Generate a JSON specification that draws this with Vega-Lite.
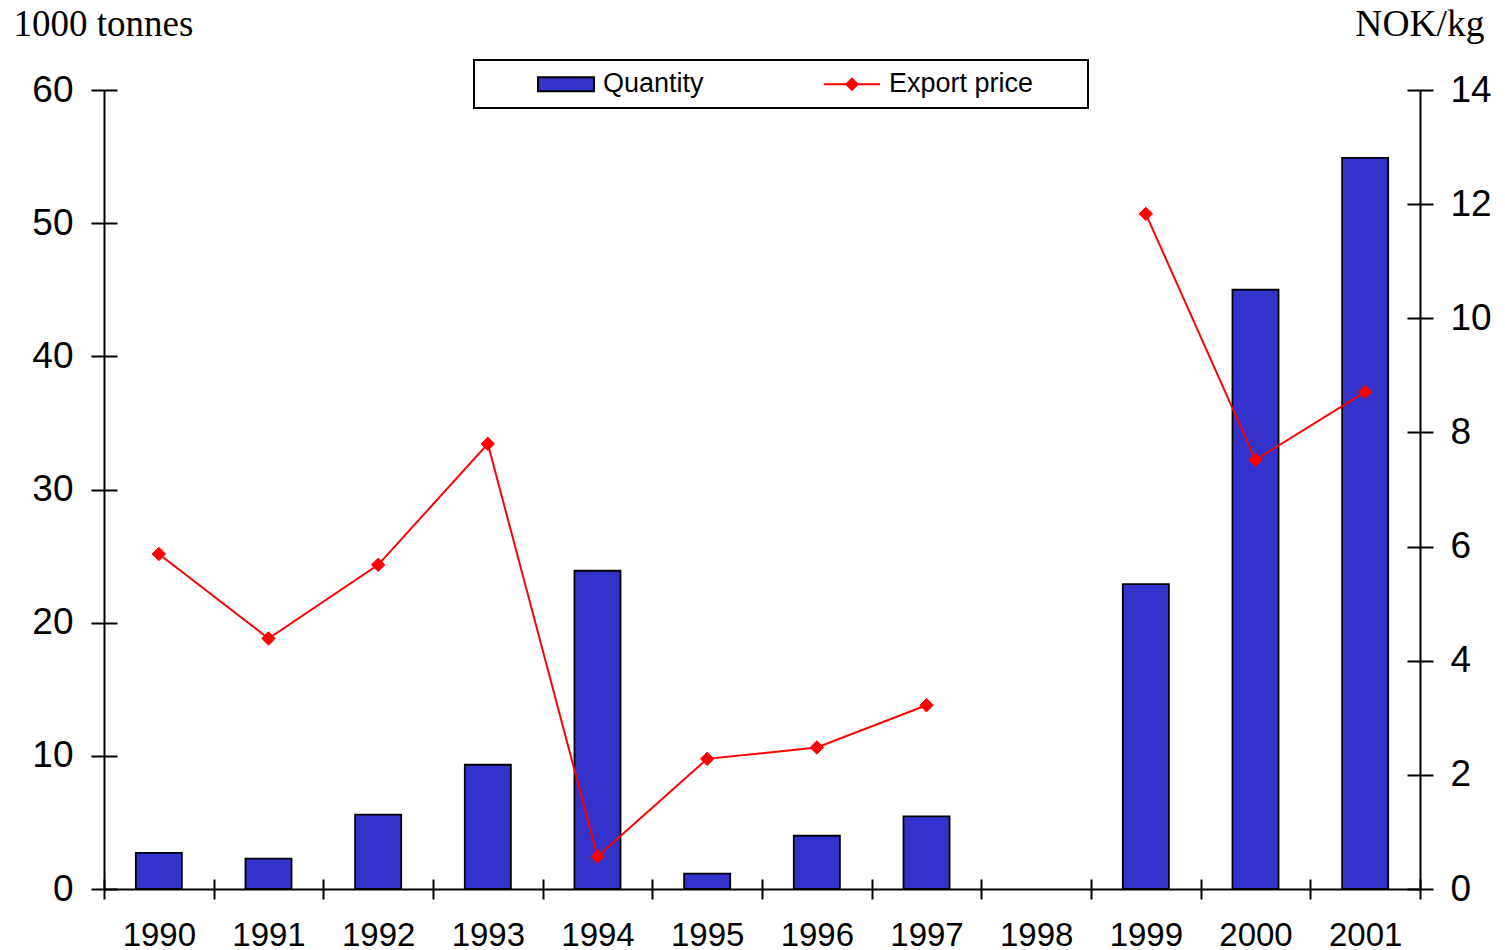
{
  "$schema": "https://vega.github.io/schema/vega-lite/v6.json",
  "width": 1316,
  "height": 799,
  "autosize": {"type": "none"},
  "padding": {"left": 104, "top": 90, "right": 85, "bottom": 61},
  "background": "white",
  "config": {
    "view": {"stroke": null},
    "font": "Liberation Sans",
    "axis": {
      "grid": false,
      "domainColor": "black",
      "domainWidth": 2,
      "tickColor": "black",
      "tickWidth": 2,
      "labelColor": "black",
      "labelFont": "Liberation Sans",
      "labelFontSize": 37,
      "titleColor": "black",
      "titleFont": "Liberation Serif",
      "titleFontSize": 37,
      "titleFontWeight": "normal"
    },
    "legend": {"strokeWidth": 2}
  },
  "data": {
    "values": [
      {"year": "1990", "quantity": 2.72, "price": 5.87},
      {"year": "1991", "quantity": 2.28, "price": 4.39},
      {"year": "1992", "quantity": 5.58, "price": 5.68},
      {"year": "1993", "quantity": 9.33, "price": 7.80},
      {"year": "1994", "quantity": 23.9, "price": 0.57},
      {"year": "1995", "quantity": 1.15, "price": 2.28},
      {"year": "1996", "quantity": 4.0, "price": 2.48},
      {"year": "1997", "quantity": 5.46, "price": 3.22},
      {"year": "1998", "quantity": null, "price": null},
      {"year": "1999", "quantity": 22.9, "price": 11.83},
      {"year": "2000", "quantity": 45.0, "price": 7.52},
      {"year": "2001", "quantity": 54.9, "price": 8.71}
    ]
  },
  "layer": [
    {
      "mark": {"type": "bar", "strokeWidth": 1.8, "width": {"band": 0.42}},
      "encoding": {
        "x": {
          "field": "year", "type": "nominal", "sort": null,
          "scale": {"type": "band", "domain": ["1990", "1991", "1992", "1993", "1994", "1995", "1996", "1997", "1998", "1999", "2000", "2001"], "paddingInner": 0, "paddingOuter": 0},
          "axis": {"orient": "bottom", "title": null, "labelAngle": 0, "labelFontSize": 33, "tickBand": "extent", "tickSize": 10, "labelPadding": 20}
        },
        "y": {
          "field": "quantity", "type": "quantitative",
          "scale": {"domain": [0, 60], "nice": false},
          "axis": {
            "orient": "left", "values": [0, 10, 20, 30, 40, 50, 60],
            "title": "1000 tonnes", "titleAngle": 0, "titleAlign": "left", "titleBaseline": "alphabetic",
            "titleX": -91, "titleY": -55, "tickSize": 13, "labelPadding": 18
          }
        },
        "fill": {
          "datum": "Quantity",
          "scale": {"domain": ["Quantity", "Export price"], "range": ["#3333CC", "#FF0000"]},
          "legend": {
            "orient": "none", "legendX": 370, "legendY": -30, "direction": "horizontal", "columns": 2,
            "title": "\u00a0", "titleOrient": "left", "titleFontSize": 1, "titlePadding": 68,
            "padding": 10.5, "strokeColor": "black", "fillColor": "white",
            "symbolSize": 625, "symbolStrokeWidth": 2,
            "labelFont": "Liberation Sans", "labelFontSize": 27, "labelColor": "black", "labelOffset": 23.5, "columnPadding": 115
          }
        },
        "stroke": {
          "datum": "Quantity",
          "scale": {"domain": ["Quantity", "Export price"], "range": ["#000000", "#FF0000"]},
          "legend": {
            "orient": "none", "legendX": 370, "legendY": -30, "direction": "horizontal", "columns": 2,
            "title": "\u00a0", "titleOrient": "left", "titleFontSize": 1, "titlePadding": 68,
            "padding": 10.5, "strokeColor": "black", "fillColor": "white",
            "symbolSize": 625, "symbolStrokeWidth": 2,
            "labelFont": "Liberation Sans", "labelFontSize": 27, "labelColor": "black", "labelOffset": 23.5, "columnPadding": 115
          }
        }
      }
    },
    {
      "mark": {
        "type": "line", "strokeWidth": 2, "invalid": "break-paths-show-domains",
        "point": {"filled": true, "fill": "#FF0000", "shape": "diamond", "size": 180, "strokeWidth": 1, "opacity": 1}
      },
      "encoding": {
        "x": {
          "field": "year", "type": "nominal", "sort": null,
          "scale": {"type": "band", "domain": ["1990", "1991", "1992", "1993", "1994", "1995", "1996", "1997", "1998", "1999", "2000", "2001"], "paddingInner": 0, "paddingOuter": 0},
          "axis": null
        },
        "y": {
          "field": "price", "type": "quantitative",
          "scale": {"domain": [0, 14], "nice": false},
          "axis": {
            "orient": "right", "values": [0, 2, 4, 6, 8, 10, 12, 14],
            "title": "NOK/kg", "titleAngle": 0, "titleAlign": "right", "titleBaseline": "alphabetic",
            "titleFontSize": 37.5, "titleX": 64, "titleY": -55, "tickSize": 13, "labelPadding": 17
          }
        },
        "stroke": {
          "datum": "Export price",
          "scale": {"domain": ["Quantity", "Export price"], "range": ["#000000", "#FF0000"]},
          "legend": {
            "orient": "none", "legendX": 370, "legendY": -30, "direction": "horizontal", "columns": 2,
            "title": "\u00a0", "titleOrient": "left", "titleFontSize": 1, "titlePadding": 68,
            "padding": 10.5, "strokeColor": "black", "fillColor": "white",
            "symbolSize": 625, "symbolStrokeWidth": 2,
            "labelFont": "Liberation Sans", "labelFontSize": 27, "labelColor": "black", "labelOffset": 23.5, "columnPadding": 115
          }
        }
      }
    },
    {
      "mark": {"type": "point", "opacity": 0},
      "encoding": {
        "x": {
          "field": "year", "type": "nominal", "sort": null,
          "scale": {"type": "band", "domain": ["1990", "1991", "1992", "1993", "1994", "1995", "1996", "1997", "1998", "1999", "2000", "2001"], "paddingInner": 0, "paddingOuter": 0},
          "axis": null
        },
        "y": {
          "field": "quantity", "type": "quantitative",
          "scale": {"domain": [0, 60], "nice": false},
          "axis": {"orient": "left", "values": [0, 10, 20, 30, 40, 50, 60], "title": null, "labels": false, "domain": false, "tickSize": -13}
        },
        "shape": {
          "datum": "Quantity",
          "scale": {"domain": ["Quantity", "Export price"], "range": ["M-2.24,-0.56H2.24V0.56H-2.24Z", "M-2.24,0H2.24M-0.448,0L0,-0.448L0.448,0L0,0.448ZM17.68,0"]},
          "legend": {
            "orient": "none", "legendX": 370, "legendY": -30, "direction": "horizontal", "columns": 2,
            "title": "\u00a0", "titleOrient": "left", "titleFontSize": 1, "titlePadding": 68,
            "padding": 10.5, "strokeColor": "black", "fillColor": "white",
            "symbolSize": 625, "symbolStrokeWidth": 2,
            "labelFont": "Liberation Sans", "labelFontSize": 27, "labelColor": "black", "labelOffset": 23.5, "columnPadding": 115
          }
        }
      }
    },
    {
      "mark": {"type": "point", "opacity": 0},
      "encoding": {
        "x": {
          "field": "year", "type": "nominal", "sort": null,
          "scale": {"type": "band", "domain": ["1990", "1991", "1992", "1993", "1994", "1995", "1996", "1997", "1998", "1999", "2000", "2001"], "paddingInner": 0, "paddingOuter": 0},
          "axis": {"orient": "bottom", "title": null, "labels": false, "domain": false, "tickBand": "extent", "tickSize": -10}
        },
        "y": {
          "field": "price", "type": "quantitative",
          "scale": {"domain": [0, 14], "nice": false},
          "axis": {"orient": "right", "values": [0, 2, 4, 6, 8, 10, 12, 14], "title": null, "labels": false, "domain": false, "tickSize": -13}
        }
      }
    }
  ],
  "resolve": {"scale": {"x": "independent", "y": "independent"}}
}
